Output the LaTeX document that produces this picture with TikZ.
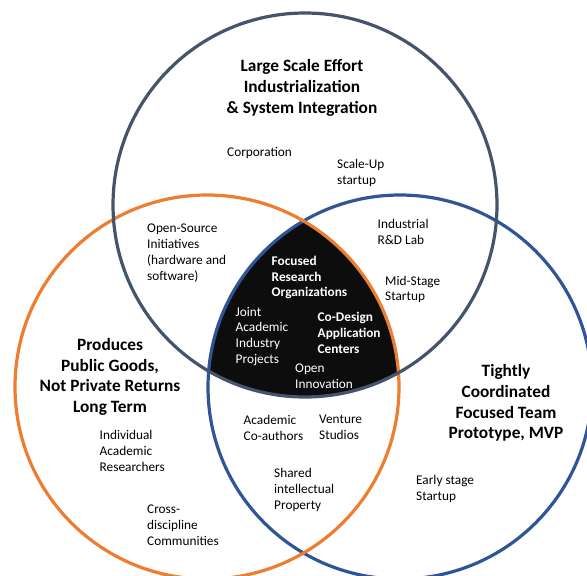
\documentclass[tikz,border=0pt]{standalone}
\usepackage{fontspec}
\setmainfont{Carlito}
\usetikzlibrary{positioning}
\definecolor{topgray}{RGB}{68,84,106}
\definecolor{leftorange}{RGB}{237,125,49}
\definecolor{rightblue}{RGB}{47,85,151}

\begin{document}
\begin{tikzpicture}[x=1pt, y=-1pt,
                    ring/.style={line width=3.2pt},
                    heading/.style={font=\fontsize{17.3}{20.7}\selectfont\bfseries, align=center, inner sep=0pt},
                    item/.style={font=\fontsize{13.3}{15.9}\selectfont, align=left, anchor=west, inner sep=0pt},
                    core/.style={item, text=white},
                    corebold/.style={core, font=\fontsize{13.3}{15.9}\selectfont\bfseries}
                    ]

    \useasboundingbox (0,0) rectangle (587,576);

    % CIRCLES %
    \newdimen\R
    \R=192pt
    \coordinate (Ctop) at (305,205);
    \coordinate (Cleft) at (207,387);
    \coordinate (Cright) at (400,387);

    % BLACK CENTRE %
    \begin{scope}
    \clip (Ctop) circle[radius=\R];
    \clip (Cleft) circle[radius=\R];
    \fill[black!95] (Cright) circle[radius=\R];
    \end{scope}

    \draw[ring, rightblue] (Cright) circle[radius=\R];
    \draw[ring, leftorange] (Cleft) circle[radius=\R];
    \draw[ring, topgray] (Ctop) circle[radius=\R];

    % HEADINGS %
    \node[heading] (large) at (302,88) {Large Scale Effort\\Industrialization\\\& System Integration};
    \node[heading] (public) at (110,377) {Produces\\Public Goods,\\Not Private Returns\\Long Term};
    \node[heading] (tight) at (506,403) {Tightly\\Coordinated\\Focused Team\\Prototype, MVP};

    % TOP CIRCLE %
    \node[item] (corp) at (227,153) {Corporation};
    \node[item] (scaleup) at (337,173) {Scale-Up\\startup};
    \node[item] (opensrc) at (147,253) {Open-Source\\Initiatives\\(hardware and\\software)};
    \node[item] (rdlab) at (377.5,232) {Industrial\\R\&D Lab};
    \node[item] (midstage) at (385,289.5) {Mid-Stage\\Startup};

    % CENTRE %
    \node[corebold] (fro) at (271.5,277.5) {Focused\\Research\\Organizations};
    \node[core] (joint) at (235.5,336.5) {Joint\\Academic\\Industry\\Projects};
    \node[corebold] (codesign) at (317.5,333) {Co-Design\\Application\\Centers};
    \node[core] (openinno) at (295,376.5) {Open\\Innovation};

    % LOWER CIRCLES %
    \node[item] (indiv) at (99.5,451) {Individual\\Academic\\Researchers};
    \node[item] (cross) at (147,525.5) {Cross-\\discipline\\Communities};
    \node[item] (coauth) at (243.5,428) {Academic\\Co-authors};
    \node[item] (venture) at (319,427.5) {Venture\\Studios};
    \node[item] (shared) at (274,490) {Shared\\intellectual\\Property};
    \node[item] (early) at (416,489) {Early stage\\Startup};
\end{tikzpicture}
\end{document}
